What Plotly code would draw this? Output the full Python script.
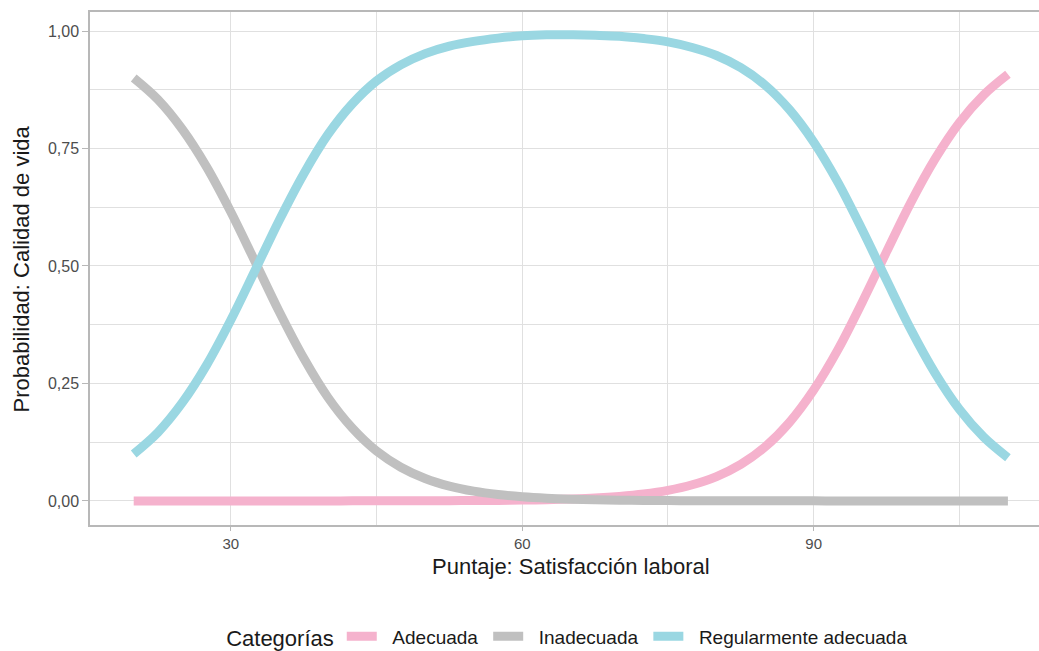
import plotly.graph_objects as go

# Predicted probabilities by job-satisfaction score
puntaje = [20, 22.5, 25, 27.5, 30, 32.5, 35, 37.5, 40, 42.5, 45, 47.5, 50, 52.5, 55, 57.5,
           60, 62.5, 65, 67.5, 70, 72.5, 75, 77.5, 80, 82.5, 85, 87.5, 90, 92.5, 95, 97.5,
           100, 102.5, 105, 107.5, 110]
adecuada = [0.0, 0.0, 0.0, 0.0, 0.0, 0.0, 0.0, 0.0, 0.0, 0.0001, 0.0001, 0.0002, 0.0003,
            0.0005, 0.0007, 0.0011, 0.0017, 0.0026, 0.0041, 0.0062, 0.0096, 0.0147, 0.0225,
            0.0343, 0.0518, 0.0777, 0.115, 0.167, 0.236, 0.322, 0.423, 0.530, 0.635, 0.728,
            0.805, 0.864, 0.908]
inadecuada = [0.900, 0.854, 0.791, 0.711, 0.615, 0.509, 0.402, 0.304, 0.220, 0.155, 0.106,
              0.0717, 0.0477, 0.0315, 0.0207, 0.0135, 0.0088, 0.0057, 0.0037, 0.0024, 0.0016,
              0.0010, 0.0007, 0.0004, 0.0003, 0.0002, 0.0001, 0.0001, 0.0001, 0.0, 0.0, 0.0,
              0.0, 0.0, 0.0, 0.0, 0.0]
regular = [0.100, 0.146, 0.209, 0.289, 0.385, 0.491, 0.598, 0.696, 0.780, 0.845, 0.894,
           0.928, 0.952, 0.968, 0.978, 0.985, 0.990, 0.992, 0.992, 0.991, 0.989, 0.984,
           0.977, 0.965, 0.948, 0.922, 0.885, 0.833, 0.764, 0.678, 0.577, 0.470, 0.365,
           0.272, 0.195, 0.136, 0.092]

series = [
    ("Adecuada", adecuada, "#F5B2CD"),
    ("Inadecuada", inadecuada, "#C0C0C0"),
    ("Regularmente adecuada", regular, "#9AD7E2"),
]

y_ticks = [0.0, 0.25, 0.5, 0.75, 1.0]
y_labels = ["0,00", "0,25", "0,50", "0,75", "1,00"]
x_ticks = [30, 60, 90]

NB = "\u00a0"

fig = go.Figure()
for name, vals, color in series:
    fig.add_trace(go.Scatter(
        x=puntaje, y=vals, name=NB * 2 + name + NB, mode="lines",
        line=dict(color=color, width=9, shape="spline", smoothing=1.0),
    ))

grid = "#E0E0E0"
border = "#B8B8B8"
font = "Liberation Sans, Arial, sans-serif"
dark = "#1A1A1A"
mid = "#4D4D4D"

fig.update_layout(
    width=1039, height=651,
    margin=dict(l=90, r=0, t=12, b=126, autoexpand=False),
    paper_bgcolor="white", plot_bgcolor="white",
    font=dict(family=font, color=mid),
    showlegend=True,
    legend=dict(
        orientation="h", x=0.507, xanchor="center", y=-0.218, yanchor="middle",
        title=dict(text="Categorías", font=dict(size=22, color=dark, family=font)),
        font=dict(size=19, color=dark, family=font),
        itemwidth=30,
    ),
    xaxis=dict(
        range=[15.5, 113.2], tickvals=x_ticks, ticktext=[str(v) for v in x_ticks],
        showgrid=True, gridcolor=grid, gridwidth=1.2,
        minor=dict(showgrid=True, gridcolor=grid, gridwidth=0.8, tick0=15, dtick=30),
        ticks="outside", ticklen=4, tickcolor=border, tickwidth=1,
        tickfont=dict(size=15, color=mid),
        showline=True, linecolor=border, linewidth=1.5, mirror=True,
        zeroline=False,
    ),
    yaxis=dict(
        range=[-0.0513, 1.0406], tickvals=y_ticks, ticktext=y_labels,
        showgrid=True, gridcolor=grid, gridwidth=1.2,
        minor=dict(showgrid=True, gridcolor=grid, gridwidth=0.8, tick0=0.125, dtick=0.25),
        ticks="outside", ticklen=6, tickcolor=border, tickwidth=1,
        tickfont=dict(size=16, color=mid),
        showline=True, linecolor=border, linewidth=1.5, mirror=False,
        zeroline=False,
    ),
    annotations=[
        dict(text="Puntaje: Satisfacción laboral", xref="paper", yref="paper",
             x=0.507, y=-0.080, xanchor="center", yanchor="middle", showarrow=False,
             font=dict(size=22, color=dark, family=font)),
        dict(text="Probabilidad: Calidad de vida", xref="paper", yref="paper",
             x=-0.0717, y=0.5, xanchor="center", yanchor="middle", showarrow=False,
             textangle=-90, font=dict(size=22, color=dark, family=font)),
    ],
)

fig.write_html("out.html")
